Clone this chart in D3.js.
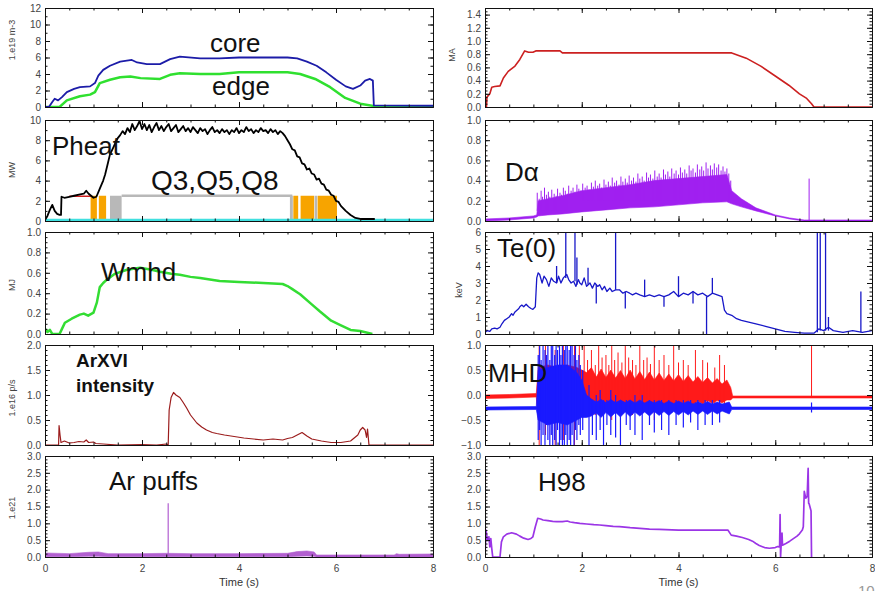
<!DOCTYPE html>
<html><head><meta charset="utf-8">
<script src="https://cdn.jsdelivr.net/npm/d3@7/dist/d3.min.js"></script>
<style>body{margin:0;background:#fff}svg{display:block}</style>
</head><body>
<svg id="c" width="875" height="591"></svg>
<script>
// ---------- data (time in s) ----------
const timeTicks = [0, 2, 4, 6, 8];
const timeTickLabels = ["0", "2", "4", "6", "8"];

// line-averaged density, 1e19 m^-3
const coreDensity = [[0,0],[0.08,0],[0.15,0.6],[0.2,1.0],[0.27,0.8],[0.35,1.2],[0.45,1.8],[0.6,2.2],[0.72,2.4],[0.93,2.5],[1.03,2.9],[1.1,3.8],[1.2,4.5],[1.34,5.0],[1.55,5.5],[1.79,5.7],[1.9,5.4],[2.1,5.2],[2.37,5.2],[2.58,5.8],[2.78,6.1],[3.2,5.9],[3.6,5.9],[4.0,6.0],[4.5,6.0],[5.0,6.0],[5.2,5.9],[5.4,5.5],[5.6,5.0],[5.8,4.2],[6.0,3.3],[6.2,2.5],[6.35,2.2],[6.5,2.6],[6.6,3.2],[6.7,3.4],[6.76,3.2],[6.78,0.2],[8,0.15]];
const edgeDensity = [[0,0],[0.3,0],[0.45,0.8],[0.72,1.3],[0.93,1.5],[1.03,1.8],[1.13,2.9],[1.34,3.3],[1.55,3.6],[1.76,3.7],[1.97,3.5],[2.37,3.4],[2.58,3.9],[2.78,4.1],[3.2,4.0],[3.6,4.0],[4.0,4.2],[4.5,4.2],[5.0,4.2],[5.26,4.0],[5.57,3.4],[5.88,2.4],[6.19,1.1],[6.5,0.4],[6.8,0.1],[8,0.05]];

// heating power, MW
const pheat = [[0,0.1],[0.05,0.5],[0.1,1.1],[0.15,1.6],[0.2,1.0],[0.25,0.7],[0.3,0.6],[0.33,0.6],[0.34,2.4],[0.4,2.3],[0.5,2.4],[0.6,2.5],[0.7,2.6],[0.8,2.7],[0.85,3.0],[0.9,2.7],[1.0,2.3],[1.06,2.4],[1.13,3.2],[1.2,4.0],[1.24,4.6],[1.3,5.8],[1.34,6.6],[1.4,7.2],[1.44,7.6],[1.5,8.2],
  [1.55,8.5],[1.6,8.9],[1.65,8.6],[1.7,9.2],[1.75,8.8],[1.8,9.6],[1.85,9.0],[1.9,9.4],[1.95,9.9],[2.0,9.1],[2.05,9.6],[2.1,9.0],[2.15,9.5],[2.2,8.8],[2.25,9.3],[2.3,9.7],[2.35,9.0],[2.4,9.4],[2.45,8.9],[2.5,9.3],[2.55,9.6],[2.6,8.9],[2.65,9.2],[2.7,9.5],[2.75,8.8],[2.8,9.1],[2.85,9.4],[2.9,8.9],[2.95,9.2],[3.0,8.8],[3.05,9.3],[3.1,9.0],[3.15,8.7],[3.2,9.2],[3.25,8.9],[3.3,9.1],[3.35,8.6],[3.4,9.0],[3.45,9.3],[3.5,8.8],[3.55,9.0],[3.6,8.7],[3.65,9.1],[3.7,8.8],[3.75,9.0],[3.8,8.6],[3.85,9.0],[3.9,8.8],[3.95,9.2],[4.0,8.7],[4.05,9.0],[4.1,8.8],[4.15,9.3],[4.2,8.9],[4.25,9.1],[4.3,8.7],[4.35,9.0],[4.4,8.8],[4.45,9.2],[4.5,8.9],[4.55,9.0],[4.6,8.7],[4.65,9.1],[4.7,8.8],[4.75,9.0],[4.8,8.6],[4.85,8.9],[4.9,8.7],
  [4.95,8.4],[5.0,8.0],[5.05,7.6],[5.1,7.1],[5.15,7.0],[5.2,6.4],[5.25,6.3],[5.3,5.7],[5.35,5.6],[5.4,5.1],[5.45,5.2],[5.5,4.7],[5.55,4.6],[5.6,4.1],[5.65,4.2],[5.7,3.7],[5.75,3.6],[5.8,3.1],[5.85,3.0],[5.9,2.6],[5.95,2.5],[6.0,2.0],[6.05,1.9],[6.1,1.5],[6.2,1.0],[6.3,0.6],[6.4,0.3],[6.5,0.2],[6.8,0.2]];
const ohmicRef = [[0.5,2.45],[0.95,2.45]];
const heaterLevel = 2.5;
const orangeOn = [[0.94,1.07],[1.11,1.26],[5.12,5.22],[5.27,5.55],[5.62,6.02]];
const grayOn = [[1.34,1.58],[5.05,5.11],[5.56,5.61]];
const grayRef = [[1.58,2.5],[5.1,2.5]];
const zeroRef = [[0,0.1],[8,0.1]];

// stored energy, MJ
const wmhd = [[0,0.05],[0.05,0.02],[0.1,0.04],[0.15,0.0],[0.3,0.0],[0.35,0.05],[0.41,0.11],[0.55,0.15],[0.72,0.19],[0.8,0.2],[0.89,0.18],[1.0,0.21],[1.07,0.31],[1.13,0.46],[1.2,0.5],[1.27,0.53],[1.44,0.59],[1.69,0.63],[1.96,0.65],[2.2,0.63],[2.37,0.61],[2.6,0.59],[2.78,0.58],[3.0,0.56],[3.2,0.55],[3.6,0.52],[4.0,0.51],[4.5,0.5],[4.9,0.49],[5.0,0.47],[5.1,0.44],[5.26,0.39],[5.5,0.29],[5.67,0.22],[5.9,0.13],[6.08,0.09],[6.3,0.04],[6.5,0.03],[6.75,0.0]];

// ArXVI line intensity, 1e16 ph/s
const arxvi = [[0,0.0],[0.28,0.0],[0.29,0.39],[0.31,0.2],[0.33,0.05],[0.4,0.08],[0.5,0.04],[0.6,0.05],[0.7,0.07],[0.8,0.06],[0.85,0.1],[0.9,0.05],[1.0,0.06],[1.05,0.03],[1.2,0.02],[1.5,0.0],[2.0,0.01],[2.3,0.0],[2.5,0.02],[2.54,0.0],[2.56,0.7],[2.6,0.95],[2.65,1.05],[2.7,1.0],[2.78,0.95],[2.85,0.85],[2.92,0.74],[3.0,0.6],[3.13,0.44],[3.23,0.36],[3.33,0.3],[3.45,0.25],[3.54,0.23],[3.7,0.2],[3.9,0.17],[4.1,0.14],[4.3,0.12],[4.5,0.1],[4.7,0.12],[4.9,0.1],[5.0,0.13],[5.1,0.15],[5.2,0.2],[5.3,0.25],[5.4,0.18],[5.5,0.12],[5.7,0.08],[5.9,0.05],[6.1,0.05],[6.3,0.08],[6.45,0.2],[6.5,0.3],[6.55,0.35],[6.6,0.3],[6.63,0.15],[6.65,0.32],[6.68,0.0],[8,0.0]];

// Ar puff rate, 1e21 (t, low, high)
const arPuffBand = [[0,0.01,0.12],[0.5,0.01,0.1],[0.9,0.02,0.14],[1.1,0.02,0.15],[1.3,0.01,0.1],[2.0,0.01,0.1],[2.5,0.01,0.11],[3.0,0.01,0.1],[4.0,0.01,0.1],[5.0,0.01,0.11],[5.2,0.02,0.16],[5.4,0.03,0.18],[5.55,0.02,0.15],[5.6,0.0,0.06],[6.5,0.0,0.06],[7.2,0.0,0.06],[7.25,0.0,0.1],[7.3,0.0,0.08],[8,0.0,0.09]];
const arPuffSpikes = [[2.54,0.05,1.6]];

// plasma current, MA
const ip = [[0,0],[0.03,0.0],[0.04,0.15],[0.1,0.2],[0.14,0.3],[0.2,0.31],[0.31,0.32],[0.38,0.44],[0.48,0.54],[0.62,0.62],[0.72,0.72],[0.82,0.85],[0.9,0.83],[0.99,0.83],[1.05,0.85],[1.55,0.85],[1.6,0.82],[5.1,0.82],[5.4,0.74],[5.7,0.62],[6.0,0.47],[6.28,0.33],[6.5,0.2],[6.65,0.13],[6.75,0.05],[6.8,0.0],[8,0.0]];

// D-alpha emission (t, low, high) and ELM spikes (t, base, peak)
const dalphaBand = [[0,0.0,0.02],[0.5,0.01,0.03],[1.0,0.03,0.05],[1.07,0.04,0.06],[1.1,0.05,0.2],[1.3,0.06,0.22],[1.6,0.07,0.25],[2.0,0.09,0.3],[2.5,0.11,0.33],[3.0,0.13,0.36],[3.5,0.14,0.4],[4.0,0.16,0.42],[4.5,0.18,0.44],[5.0,0.19,0.46],[5.1,0.17,0.3],[5.3,0.14,0.22],[5.6,0.1,0.13],[6.0,0.05,0.06],[6.3,0.02,0.03],[6.6,0.0,0.01],[8,0.0,0.01]];
const dalphaSpikes = [[1.08,0.1,0.28],[1.12,0.1,0.22],[1.16,0.1,0.3],[1.19,0.1,0.24],[1.23,0.1,0.33],[1.27,0.1,0.26],[1.31,0.1,0.29],[1.34,0.1,0.24],[1.38,0.1,0.31],[1.43,0.1,0.27],[1.47,0.1,0.25],[1.5,0.1,0.32],[1.55,0.1,0.28],[1.58,0.1,0.26],[1.62,0.1,0.33],[1.66,0.1,0.3],[1.7,0.1,0.27],[1.73,0.1,0.35],[1.78,0.1,0.3],[1.82,0.1,0.33],[1.86,0.1,0.29],[1.9,0.1,0.36],[1.94,0.1,0.32],[1.98,0.1,0.3],
  [2.02,0.2,0.37],[2.07,0.2,0.33],[2.11,0.2,0.35],[2.15,0.2,0.31],[2.2,0.2,0.38],[2.24,0.2,0.34],[2.28,0.2,0.4],[2.33,0.2,0.35],[2.37,0.2,0.37],[2.41,0.2,0.33],[2.46,0.2,0.41],[2.5,0.2,0.36],[2.55,0.2,0.39],[2.59,0.2,0.35],[2.63,0.2,0.43],[2.68,0.2,0.38],[2.72,0.2,0.4],[2.77,0.2,0.36],[2.81,0.2,0.44],[2.85,0.2,0.39],[2.9,0.2,0.42],[2.94,0.2,0.38],[2.98,0.2,0.45],[3.03,0.2,0.4],[3.07,0.2,0.43],[3.12,0.2,0.39],[3.16,0.2,0.47],[3.2,0.2,0.42],[3.25,0.2,0.44],[3.29,0.2,0.4],[3.34,0.2,0.48],[3.38,0.2,0.43],[3.42,0.2,0.46],[3.47,0.2,0.42],[3.51,0.2,0.5],[3.56,0.2,0.44],[3.6,0.2,0.47],[3.64,0.2,0.43],[3.69,0.2,0.51],[3.73,0.2,0.46],[3.78,0.2,0.49],[3.82,0.2,0.44],[3.86,0.2,0.52],[3.91,0.2,0.47],[3.95,0.2,0.5],[4.0,0.2,0.46],[4.04,0.2,0.53],[4.08,0.2,0.48],[4.13,0.2,0.51],[4.17,0.2,0.47],[4.22,0.2,0.55],[4.26,0.2,0.5],[4.3,0.2,0.52],[4.35,0.2,0.48],[4.39,0.2,0.56],[4.44,0.2,0.51],[4.48,0.2,0.54],[4.52,0.2,0.5],[4.57,0.2,0.58],[4.61,0.2,0.52],[4.66,0.2,0.55],[4.7,0.2,0.51],[4.74,0.2,0.57],[4.79,0.2,0.53],[4.83,0.2,0.56],[4.88,0.2,0.5],[4.92,0.2,0.54],[4.96,0.2,0.49],[5.0,0.2,0.52],[5.04,0.2,0.47],[5.08,0.2,0.4],[6.7,0.0,0.42]];

// central electron temperature, keV
const te0 = [[0,0.1],[0.05,0.2],[0.1,0.15],[0.14,0.3],[0.2,0.35],[0.25,0.3],[0.31,0.4],[0.35,0.6],[0.4,0.8],[0.45,0.9],[0.5,1.0],[0.55,1.2],[0.58,1.1],[0.62,1.3],[0.66,1.4],[0.7,1.5],[0.72,1.6],[0.76,1.7],[0.8,1.6],[0.85,1.75],[0.9,1.6],[0.95,1.5],[0.99,1.45],[1.04,1.6],[1.07,3.3],[1.1,3.6],[1.13,3.5],[1.18,3.0],[1.22,3.4],[1.27,3.2],[1.32,2.8],[1.37,3.3],[1.42,3.1],[1.48,3.0],[1.52,3.4],[1.57,3.0],[1.62,3.3],[1.69,3.5],[1.73,3.2],[1.78,3.0],[1.83,3.1],[1.88,2.8],[1.93,3.2],[1.96,3.0],[2.0,2.9],[2.05,3.3],[2.1,2.8],[2.17,3.0],[2.22,2.7],[2.27,3.0],[2.33,2.8],[2.37,2.9],[2.42,2.6],[2.47,2.8],[2.52,2.5],[2.58,2.7],[2.63,2.5],[2.7,2.6],[2.78,2.6],[2.85,2.4],[2.92,2.5],[2.99,2.4],[3.05,2.3],[3.12,2.4],[3.2,2.3],[3.3,2.2],[3.4,2.3],[3.5,2.2],[3.6,2.3],[3.7,2.2],[3.8,2.3],[3.9,2.5],[4.0,2.2],[4.1,2.4],[4.2,2.3],[4.3,2.5],[4.4,2.3],[4.5,2.4],[4.6,2.2],[4.7,2.4],[4.8,2.3],[4.9,2.2],[4.95,1.4],[5.0,1.2],[5.1,1.1],[5.2,0.9],[5.3,0.8],[5.45,0.7],[5.6,0.6],[5.8,0.45],[6.0,0.3],[6.2,0.15],[6.4,0.1],[6.6,0.05],[6.8,0.05],[6.9,0.3],[7.0,0.2],[7.1,0.4],[7.2,0.2],[7.4,0.1],[7.6,0.2],[7.8,0.1],[8,0.2]];
const te0Spikes = [[1.48,3.0,4.0],[1.67,3.3,6.2],[1.86,3.1,6.2],[1.9,2.9,4.5],[2.13,2.9,3.9],[2.3,2.9,1.8],[2.7,2.6,6.2],[2.9,2.5,1.5],[3.3,2.2,3.2],[3.7,2.2,1.6],[4.0,2.2,3.4],[4.3,2.5,1.8],[4.58,2.2,0.0],[4.7,2.4,3.3],[6.87,0.1,6.2],[6.93,0.2,6.2],[7.04,0.2,6.2],[7.1,0.2,1.0],[7.77,0.1,2.5]];

// magnetic fluctuation signals (t, low, high) and excursions (t, low, high)
const mhdRedBand = [[0,-0.07,0.0],[0.5,-0.06,0.01],[1.06,-0.04,0.03],[1.1,-0.5,0.55],[1.3,-0.55,0.6],[1.5,-0.5,0.55],[1.7,-0.55,0.6],[1.9,-0.45,0.55],[2.0,-0.35,0.5],[2.1,-0.25,0.45],[2.2,-0.2,0.55],[2.3,-0.28,0.36],[2.4,-0.18,0.52],[2.5,-0.25,0.35],[2.6,-0.17,0.5],[2.7,-0.26,0.34],[2.8,-0.16,0.49],[2.9,-0.24,0.33],[3.0,-0.15,0.5],[3.1,-0.25,0.32],[3.2,-0.16,0.47],[3.3,-0.23,0.31],[3.4,-0.15,0.46],[3.5,-0.22,0.3],[3.6,-0.14,0.44],[3.7,-0.22,0.29],[3.8,-0.13,0.42],[3.9,-0.2,0.28],[4.0,-0.13,0.41],[4.1,-0.2,0.27],[4.2,-0.12,0.39],[4.3,-0.19,0.26],[4.4,-0.12,0.37],[4.5,-0.18,0.25],[4.6,-0.11,0.35],[4.7,-0.17,0.24],[4.8,-0.11,0.33],[4.9,-0.16,0.22],[5.0,-0.1,0.3],[5.08,-0.1,0.15],[5.12,-0.06,-0.02],[8,-0.06,-0.02]];
const mhdBlueBand = [[0,-0.3,-0.24],[1.06,-0.29,-0.23],[1.1,-0.5,0.5],[1.3,-0.6,0.55],[1.5,-0.55,0.6],[1.7,-0.6,0.6],[1.9,-0.5,0.45],[2.0,-0.45,0.3],[2.1,-0.45,0.0],[2.2,-0.42,-0.08],[2.3,-0.36,-0.14],[2.4,-0.45,-0.09],[2.5,-0.35,-0.15],[2.6,-0.44,-0.09],[2.7,-0.35,-0.15],[2.8,-0.44,-0.1],[2.9,-0.34,-0.15],[3.0,-0.43,-0.1],[3.1,-0.34,-0.16],[3.2,-0.42,-0.1],[3.3,-0.34,-0.16],[3.4,-0.42,-0.11],[3.5,-0.33,-0.16],[3.6,-0.41,-0.11],[3.7,-0.33,-0.17],[3.8,-0.41,-0.12],[3.9,-0.33,-0.17],[4.0,-0.4,-0.12],[4.1,-0.33,-0.17],[4.2,-0.4,-0.12],[4.3,-0.32,-0.18],[4.4,-0.39,-0.13],[4.5,-0.32,-0.18],[4.6,-0.39,-0.13],[4.7,-0.32,-0.18],[4.8,-0.38,-0.14],[4.9,-0.32,-0.18],[5.05,-0.38,-0.14],[5.1,-0.29,-0.24],[8,-0.29,-0.24]];
const mhdRedSpikes = [[1.12,-1.0,1.0],[1.25,-0.8,1.0],[1.45,-1.0,0.9],[1.62,-0.9,1.0],[1.85,-1.0,1.0],[1.95,0,1.0],[2.05,0,1.0],[2.12,-0.3,0.7],[2.2,-0.3,0.9],[2.28,-0.4,0.6],[2.35,-0.4,1.0],[2.42,-0.3,0.75],[2.5,-0.3,0.8],[2.56,-0.2,0.6],[2.62,-0.5,1.0],[2.68,-0.35,0.7],[2.75,-0.2,0.85],[2.83,-0.3,0.65],[2.9,-0.3,1.0],[2.97,-0.2,0.75],[3.05,-0.4,0.7],[3.12,-0.25,0.6],[3.2,-0.3,1.0],[3.28,-0.35,0.7],[3.35,-0.2,0.75],[3.42,-0.3,0.62],[3.5,-0.5,1.0],[3.6,-0.3,0.7],[3.7,-0.3,0.8],[3.8,-0.25,0.6],[3.9,-0.2,1.0],[4.0,-0.2,0.65],[4.1,-0.3,0.7],[4.2,-0.3,0.6],[4.35,-0.2,0.9],[4.5,-0.25,0.7],[4.6,-0.3,0.65],[4.75,-0.2,0.55],[4.85,-0.2,0.8],[4.95,-0.2,0.6],[6.75,-0.05,1.0]];
const mhdBlueSpikes = [[1.1,-0.9,0.8],[1.13,-0.7,1.0],[1.16,-1.0,0.7],[1.2,-0.8,1.0],[1.24,-1.0,0.9],[1.27,-0.6,0.8],[1.3,-0.9,1.0],[1.34,-1.0,0.7],[1.37,-0.8,1.0],[1.4,-1.0,1.0],[1.44,-0.9,0.8],[1.47,-1.0,1.0],[1.5,-0.7,0.9],[1.54,-1.0,1.0],[1.57,-0.9,0.8],[1.6,-1.0,1.0],[1.64,-1.0,0.9],[1.67,-0.8,1.0],[1.7,-1.0,1.0],[1.74,-0.9,0.9],[1.77,-1.0,1.0],[1.8,-0.8,1.0],[1.84,-1.0,0.8],[1.87,-0.7,1.0],[1.9,-0.9,0.7],[1.94,-0.6,0.8],[1.97,-0.8,0.6],[2.02,-0.7,0.5],[2.15,-1.0,0.2],[2.22,-0.8,-0.1],[2.3,-0.9,0.0],[2.38,-0.7,0.1],[2.45,-1.0,-0.1],[2.52,-0.6,-0.1],[2.6,-0.8,0.1],[2.7,-0.85,0.0],[2.8,-1.0,-0.1],[2.92,-0.6,-0.1],[3.0,-0.7,-0.1],[3.1,-0.8,0.0],[3.25,-0.9,0.0],[3.4,-0.6,-0.1],[3.5,-0.75,-0.1],[3.65,-0.7,-0.1],[3.8,-0.8,-0.1],[3.95,-0.6,-0.1],[4.1,-0.65,-0.1],[4.25,-0.55,-0.1],[4.4,-0.7,-0.1],[4.55,-0.6,-0.1],[4.7,-0.6,-0.1],[4.85,-0.55,-0.1],[6.75,-0.35,-0.15]];

// confinement enhancement factor H98
const h98 = [[0.0,0.0],[0.02,0.8],[0.05,0.5],[0.08,0.6],[0.1,0.3],[0.12,0.55],[0.14,0.25],[0.16,0.0],[0.31,0.0],[0.34,0.45],[0.38,0.6],[0.45,0.68],[0.55,0.72],[0.65,0.68],[0.72,0.62],[0.8,0.56],[0.89,0.52],[0.95,0.55],[0.99,0.6],[1.04,0.9],[1.09,1.15],[1.15,1.13],[1.2,1.1],[1.3,1.08],[1.4,1.06],[1.48,1.05],[1.6,1.05],[1.7,1.07],[1.76,1.04],[1.85,1.02],[1.96,1.0],[2.1,0.98],[2.25,0.96],[2.37,0.95],[2.5,0.93],[2.65,0.91],[2.78,0.9],[3.0,0.87],[3.2,0.85],[3.4,0.83],[3.6,0.82],[4.0,0.8],[4.5,0.8],[5.02,0.8],[5.09,0.65],[5.2,0.62],[5.32,0.58],[5.45,0.52],[5.53,0.47],[5.6,0.4],[5.67,0.34],[5.78,0.28],[5.88,0.26],[6.0,0.28],[6.05,0.31],[6.09,0.3],[6.1,1.26],[6.11,0.0],[6.12,0.3],[6.14,0.71],[6.15,0.35],[6.22,0.4],[6.3,0.47],[6.36,0.53],[6.45,0.62],[6.5,0.69],[6.56,0.8],[6.58,0.9],[6.6,1.95],[6.63,1.75],[6.66,1.8],[6.68,2.63],[6.69,1.6],[6.7,1.58],[6.74,1.37],[6.75,0.0]];

// ---------- layout ----------
const svg = d3.select("#c");
const FONT = "'Liberation Sans', Arial, sans-serif";
const cols = [[45, 433], [485, 872]];
const rows = [[8, 107], [120, 221], [232, 334], [345, 445], [456, 557]];
const seriesLayer = svg.append("g");
const axisLayer = svg.append("g");

function panel(col, row, domain, ticks, fmt, minor, title, titleX, titleY) {
  const [x0, x1] = cols[col], [y0, y1] = rows[row];
  const x = d3.scaleLinear().domain([0, 8]).range([x0, x1]);
  const y = d3.scaleLinear().domain(domain).range([y1, y0]);
  const id = `clip-${col}-${row}`;
  svg.append("clipPath").attr("id", id).append("rect")
    .attr("x", x0).attr("y", y0).attr("width", x1 - x0).attr("height", y1 - y0);
  const plot = seriesLayer.append("g").attr("clip-path", `url(#${id})`);
  const ax = axisLayer.append("g");
  const style = g => {
    g.select(".domain").attr("stroke", "#111");
    g.selectAll(".tick line").attr("stroke", "#111");
    g.selectAll("text").attr("font-family", FONT).attr("font-size", 10).attr("fill", "#444");
  };
  const minorVals = d3.range(domain[0], domain[1] + 1e-9, minor);
  // left axis with labels
  ax.append("g").attr("transform", `translate(${x0},0)`)
    .call(d3.axisLeft(y).tickValues(ticks).tickFormat(fmt).tickSize(-5).tickSizeOuter(0).tickPadding(4)).call(style);
  ax.append("g").attr("transform", `translate(${x0},0)`)
    .call(d3.axisLeft(y).tickValues(minorVals).tickFormat("").tickSize(-2.5).tickSizeOuter(0)).call(style);
  // right axis
  ax.append("g").attr("transform", `translate(${x1},0)`)
    .call(d3.axisRight(y).tickValues(ticks).tickFormat("").tickSize(-5).tickSizeOuter(0)).call(style);
  ax.append("g").attr("transform", `translate(${x1},0)`)
    .call(d3.axisRight(y).tickValues(minorVals).tickFormat("").tickSize(-2.5).tickSizeOuter(0)).call(style);
  // top and bottom time axes
  const tMinor = d3.range(0, 8.001, 0.5);
  ax.append("g").attr("transform", `translate(0,${y0})`)
    .call(d3.axisTop(x).tickValues(timeTicks).tickFormat("").tickSize(-5).tickSizeOuter(0)).call(style);
  ax.append("g").attr("transform", `translate(0,${y0})`)
    .call(d3.axisTop(x).tickValues(tMinor).tickFormat("").tickSize(-2.5).tickSizeOuter(0)).call(style);
  ax.append("g").attr("transform", `translate(0,${y1})`)
    .call(d3.axisBottom(x).tickValues(timeTicks)
      .tickFormat((d, i) => row === 4 ? timeTickLabels[i] : "")
      .tickSize(-5).tickSizeOuter(0).tickPadding(8)).call(style);
  ax.append("g").attr("transform", `translate(0,${y1})`)
    .call(d3.axisBottom(x).tickValues(tMinor).tickFormat("").tickSize(-2.5).tickSizeOuter(0)).call(style);
  if (row === 4) {
    ax.append("text").attr("x", (x0 + x1) / 2).attr("y", 586).attr("text-anchor", "middle")
      .attr("font-family", FONT).attr("font-size", 11).attr("fill", "#333").text("Time (s)");
  }
  if (title) {
    ax.append("text").attr("transform", `translate(${titleX},${titleY}) rotate(-90)`)
      .attr("text-anchor", "middle").attr("font-family", FONT).attr("font-size", 9).attr("fill", "#444").text(title);
  }
  return { x, y, plot };
}

const f1 = d3.format(".1f");
const fInt = d3.format("d");
const fSigned = d => (d < 0 ? "\u2212" : "") + f1(Math.abs(d));

const pDen = panel(0, 0, [0, 12], [0, 2, 4, 6, 8, 10, 12], fInt, 1, "1.e19 m-3", 15, 40);
const pPow = panel(0, 1, [0, 10], [0, 2, 4, 6, 8, 10], fInt, 1, "MW", 15, 170);
const pW = panel(0, 2, [0, 1], [0, 0.2, 0.4, 0.6, 0.8, 1.0], f1, 0.05, "MJ", 15, 285);
const pAr = panel(0, 3, [0, 2], [0, 0.5, 1, 1.5, 2], f1, 0.1, "1.e16 p/s", 15, 398);
const pPuff = panel(0, 4, [0, 3], [0, 0.5, 1, 1.5, 2, 2.5, 3], f1, 0.1, "1.e21", 15, 508);
const pIp = panel(1, 0, [0, 1.5], [0, 0.2, 0.4, 0.6, 0.8, 1.0, 1.2, 1.4], f1, 0.05, "MA", 455, 55);
const pDa = panel(1, 1, [0, 1], [0, 0.2, 0.4, 0.6, 0.8, 1.0], f1, 0.05, null);
const pTe = panel(1, 2, [0, 6], [0, 1, 2, 3, 4, 5, 6], fInt, 0.25, "keV", 462, 290);
const pMhd = panel(1, 3, [-1, 1], [-1, -0.5, 0, 0.5, 1], fSigned, 0.1, null);
const pH = panel(1, 4, [0, 3], [0, 0.5, 1, 1.5, 2, 2.5, 3], f1, 0.1, null);

// ---------- mark helpers ----------
function line(p, data, color, w) {
  p.plot.append("path").datum(data).attr("fill", "none").attr("stroke", color)
    .attr("stroke-width", w).attr("stroke-linejoin", "round")
    .attr("d", d3.line().x(d => p.x(d[0])).y(d => p.y(d[1])));
}
function band(p, data, color) {
  p.plot.append("path").datum(data).attr("fill", color).attr("stroke", color).attr("stroke-width", 0.6)
    .attr("d", d3.area().x(d => p.x(d[0])).y0(d => p.y(d[1])).y1(d => p.y(d[2])));
}
function spikes(p, data, color, w) {
  p.plot.selectAll(null).data(data).join("line")
    .attr("x1", d => p.x(d[0])).attr("x2", d => p.x(d[0]))
    .attr("y1", d => p.y(d[1])).attr("y2", d => p.y(d[2]))
    .attr("stroke", color).attr("stroke-width", w);
}
function blocks(p, data, level, color) {
  p.plot.selectAll(null).data(data).join("rect")
    .attr("x", d => p.x(d[0])).attr("width", d => p.x(d[1]) - p.x(d[0]))
    .attr("y", p.y(level)).attr("height", p.y(0) - p.y(level)).attr("fill", color);
}

// ---------- series ----------
line(pDen, edgeDensity, "#2fe02f", 2.5);
line(pDen, coreDensity, "#1c1ca8", 1.8);

blocks(pPow, orangeOn, heaterLevel, "#f7a400");
blocks(pPow, grayOn, heaterLevel, "#b8b8b8");
line(pPow, grayRef, "#b8b8b8", 2.5);
line(pPow, ohmicRef, "#d02020", 1.5);
line(pPow, zeroRef, "#40e0e0", 2.5);
line(pPow, pheat, "#000", 1.8);

line(pW, wmhd, "#33dd33", 2.5);
line(pAr, arxvi, "#9b1c1c", 1.2);
band(pPuff, arPuffBand, "#b25fd0");
spikes(pPuff, arPuffSpikes, "#b25fd0", 1.2);

line(pIp, ip, "#cc2020", 1.6);
band(pDa, dalphaBand, "#a020f0");
spikes(pDa, dalphaSpikes, "#a020f0", 1);
line(pTe, te0, "#1818c8", 1.3);
spikes(pTe, te0Spikes, "#1818c8", 1.3);
band(pMhd, mhdRedBand, "#ff1a1a");
spikes(pMhd, mhdRedSpikes, "#ff1a1a", 1);
band(pMhd, mhdBlueBand, "#1a1aff");
spikes(pMhd, mhdBlueSpikes, "#1a1aff", 1.2);
line(pH, h98, "#9b35e6", 1.7);

// ---------- annotations ----------
const notes = [
  ["core", 210, 52, 26, "normal"], ["edge", 212, 95, 26, "normal"],
  ["Pheat", 52, 155, 26, "normal"], ["Q3,Q5,Q8", 151, 190, 28, "normal"],
  ["Wmhd", 101, 281, 26, "normal"], ["ArXVI", 76, 367, 19, "bold"], ["intensity", 76, 392, 19, "bold"],
  ["Ar puffs", 109, 490, 26, "normal"], ["D\u03b1", 505, 181, 26, "normal"],
  ["Te(0)", 497, 257, 26, "normal"], ["MHD", 488, 382, 26, "normal"], ["H98", 538, 491, 26, "normal"]
];
svg.selectAll(null).data(notes).join("text")
  .attr("x", d => d[1]).attr("y", d => d[2]).attr("font-size", d => d[3]).attr("font-weight", d => d[4])
  .attr("font-family", FONT).attr("fill", "#111").text(d => d[0]);

svg.append("text").attr("x", 858).attr("y", 596).attr("font-family", FONT).attr("font-size", 15)
  .attr("fill", "#999").text("10");
</script>
</body></html>
